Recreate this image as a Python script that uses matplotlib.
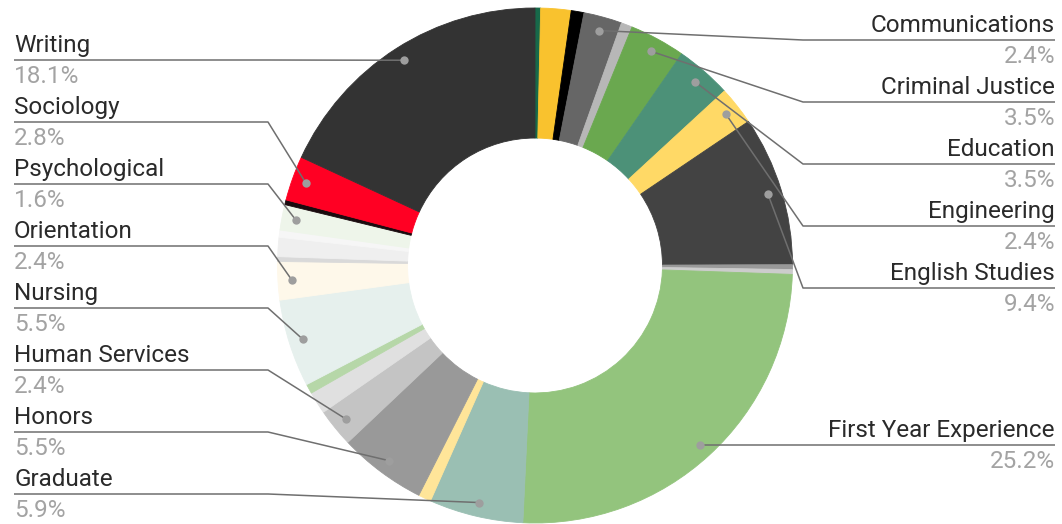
import matplotlib.pyplot as plt
import numpy as np

plt.rcParams['font.family'] = ['Roboto', 'DejaVu Sans']

# slices clockwise from 12 o'clock, '' = small slice without a label
departments = ['', '', '', 'Communications', '', 'Criminal Justice', 'Education',
               'Engineering', 'English Studies', '', '', 'First Year Experience',
               'Graduate', '', 'Honors', 'Human Services', '', '', 'Nursing',
               'Orientation', '', '', '', 'Psychological', '', 'Sociology', 'Writing']
shares = [0.35, 1.9, 0.8, 2.4, 0.7, 3.5, 3.5, 2.4, 9.4, 0.3, 0.3, 25.2, 5.9, 0.8,
          5.5, 2.4, 1.4, 0.6, 5.5, 2.4, 0.3, 1.2, 0.45, 1.6, 0.3, 2.8, 18.1]
colors = ['#17694a', '#f9c22e', '#000000', '#666666', '#b7b7b7', '#6aa84f', '#4c9178',
          '#ffd966', '#434343', '#999999', '#cccccc', '#93c47d', '#9abfb3', '#ffe599',
          '#999999', '#c4c4c4', '#e0e0e0', '#b6d7a8', '#e6f0ed', '#fef8ea', '#d9d9d9',
          '#efefef', '#f6f6f6', '#eef5ea', '#1a0a0e', '#ff0023', '#333333']

W, H = 1062, 524
cx, cy, R = 535, 265.5, 257.5   # pixel coords, y downward

fig = plt.figure(figsize=(W / 100, H / 100), dpi=100)
ax = fig.add_axes([0, 0, 1, 1])

wedges, _ = ax.pie(shares, colors=colors, startangle=90, counterclock=False,
                   radius=R, center=(cx, H - cy),
                   wedgeprops=dict(width=R * 0.505, linewidth=0.6))
for w, c in zip(wedges, colors):
    w.set_edgecolor(c)

total = sum(shares)
right, left = [], []
for w, name, val in zip(wedges, departments, shares):
    if not name:
        continue
    mid = np.radians((w.theta1 + w.theta2) / 2)
    dx = cx + 0.946 * R * np.cos(mid)
    dy = cy - 0.946 * R * np.sin(mid)
    item = [name, val / total * 100, dx, dy]
    (right if dx > cx else left).append(item)

# stack labels so they don't overlap (sheets style)
step = 62
right.sort(key=lambda t: t[3])
prev = 40 - step
for it in right:
    prev = max(it[3], prev + step)
    it.append(prev)
left.sort(key=lambda t: -t[3])
prev = 494 + step
for it in left:
    prev = min(it[3], prev - step)
    it.append(prev)

def Y(y):
    return H - y

for items, x_txt, x_bend, ha in [(right, 1055, 803, 'right'), (left, 14, 268, 'left')]:
    for name, pct, dx, dy, ly in items:
        ax.plot([x_txt, x_bend, dx], [Y(ly), Y(ly), Y(dy)], color='#6f6f6f', lw=1.1,
                solid_capstyle='butt', zorder=3)
        ax.plot(dx, Y(dy), 'o', ms=6, color='#9e9e9e', mec='none', zorder=4)
        ax.text(x_txt, Y(ly - 8), name, ha=ha, va='baseline', fontsize=17.5,
                color='#2a2a2a')
        ax.text(x_txt, Y(ly + 23), f'{pct:.1f}%', ha=ha, va='baseline', fontsize=17.5,
                color='#a3a3a3')

ax.set_xlim(0, W)
ax.set_ylim(0, H)
ax.set_aspect('equal')
ax.axis('off')

fig.savefig('out.png', dpi=100)
